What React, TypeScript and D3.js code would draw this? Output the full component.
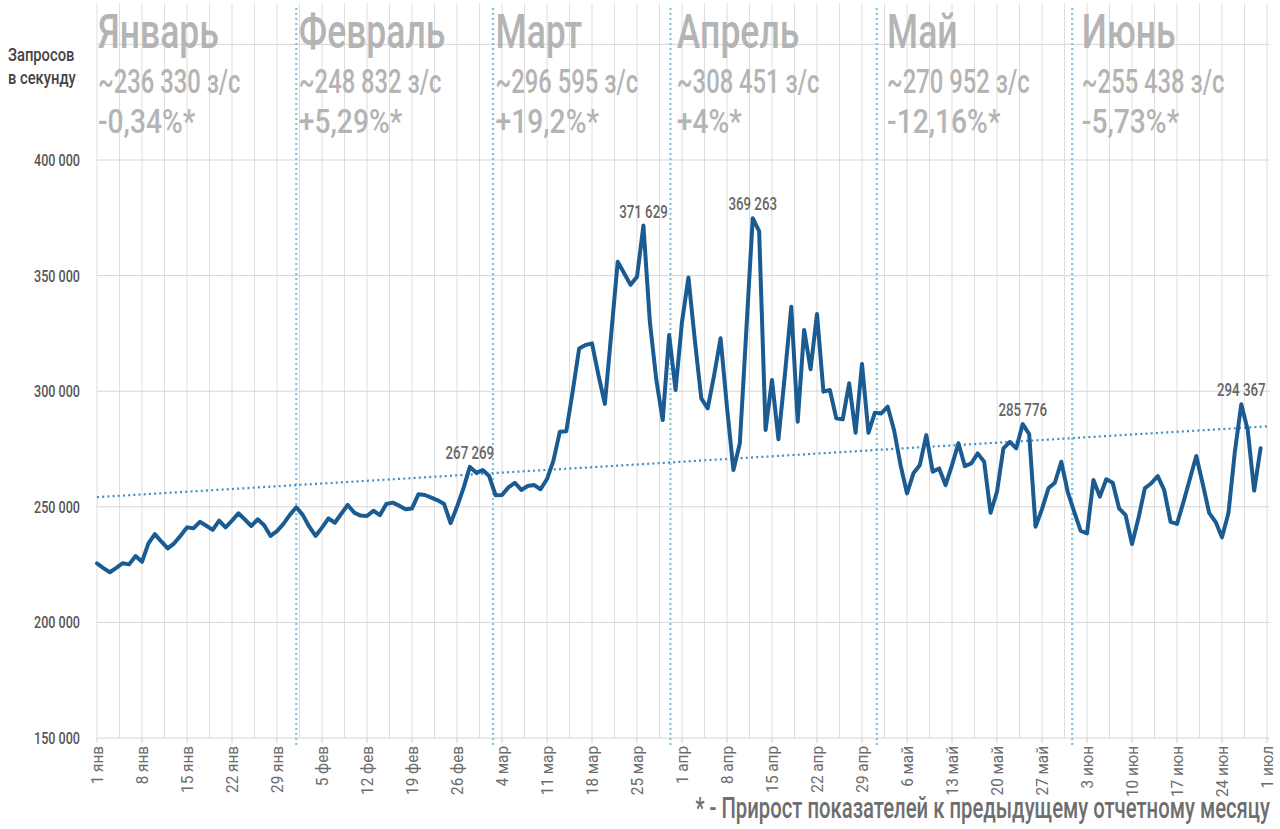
import React, { useEffect } from "react";
import * as d3 from "d3";

// ---------- DATA ----------
const START_YEAR = 2016; // day 0 = 1 Jan 2016
const MONTH_ABBR = ["янв", "фев", "мар", "апр", "май", "июн", "июл"];

// daily requests per second, 1 Jan .. 30 Jun
const VALUES: number[] = [
  // январь
  225500, 223500, 221700, 223600, 225600, 225100, 228700, 226200, 234200, 238200,
  235000, 232000, 234200, 237500, 241100, 240700, 243500, 241800, 240000, 244000,
  241100, 244000, 247200, 244500, 241700, 244600, 242000, 237400, 239500, 242600,
  246500,
  // февраль
  249800, 246500, 241500, 237400, 241000, 245000, 243100, 247000, 250800, 247500,
  246200, 246000, 248300, 246400, 251200, 251800, 250500, 248900, 249300, 255400,
  255100, 254000, 252800, 251200, 242900, 250000, 258000, 267269, 264700,
  // март
  265900, 263300, 255000, 255100, 258400, 260400, 257300, 259000, 259400, 257600,
  262000, 270000, 282500, 282700, 300000, 318500, 320000, 320700, 307000, 294500,
  325000, 356000, 351000, 346000, 349500, 371629, 330000, 305000, 287500, 324300,
  300500,
  // апрель
  330000, 349200, 322000, 296900, 292600, 307000, 322900, 293000, 265900, 277500,
  326000, 374800, 369263, 283200, 304800, 279200, 307000, 336500, 286800, 326500,
  309500, 333400, 299800, 300500, 288300, 287800, 303400, 282000, 311800, 282000,
  // май
  290700, 290400, 293300, 283000, 268000, 255800, 264500, 268100, 281000, 265200,
  266600, 259400, 268000, 277500, 267600, 268800, 273100, 269500, 247400, 256500,
  275300, 278100, 275300, 285776, 281500, 241400, 249000, 258000, 260400, 269500,
  256500,
  // июнь
  247900, 239700, 238500, 261600, 254400, 261900, 260400, 249300, 246400, 233900,
  245000, 258000, 260200, 263300, 257300, 243500, 242600, 252000, 262000, 272000,
  260000, 247400, 243500, 236800, 247200, 273800, 294367, 283200, 257000, 275300,
];

const HEADER_NAMES = ["Январь", "Февраль", "Март", "Апрель", "Май", "Июнь"];
const HEADER_AVG = ["~236 330 з/с", "~248 832 з/с", "~296 595 з/с", "~308 451 з/с", "~270 952 з/с", "~255 438 з/с"];
const HEADER_GROWTH = ["-0,34%*", "+5,29%*", "+19,2%*", "+4%*", "-12,16%*", "-5,73%*"];
const HEADER_DAYS = [0.15, 31.4, 62, 90.2, 122.9, 153.2];
const DIVIDER_DAYS = [31, 61.6, 89.2, 121.3, 151.7];

const Y_TICKS = [150000, 200000, 250000, 300000, 350000, 400000];
const Y_GRID = [150000, 200000, 250000, 300000, 350000, 400000, 450000];

const ANNOTATIONS = [
  { day: 58, text: "267 269" },
  { day: 85, text: "371 629" },
  { day: 102, text: "369 263" },
  { day: 144, text: "285 776" },
  { day: 178, text: "294 367" },
];

const Y_TITLE = ["Запросов", "в секунду"];
const FOOTNOTE = "* - Прирост показателей к предыдущему отчетному месяцу";

// ---------- HELPERS ----------
const FONT = "Roboto, 'Noto Sans', sans-serif";

type CTProps = {
  x: number; y: number; sx: number; size: number; anchor?: string; fill: string;
  weight?: number; rotate?: number; children: React.ReactNode;
};
function CText({ x, y, sx, size, anchor = "start", fill, weight = 400, rotate = 0, children }: CTProps) {
  const tr = `translate(${x},${y})${rotate ? ` rotate(${rotate})` : ""} scale(${sx},1)`;
  return (
    <text transform={tr} fontSize={size} textAnchor={anchor as any} fill={fill} fontWeight={weight} fontFamily={FONT}>
      {children}
    </text>
  );
}

export default function App() {
  useEffect(() => {
    document.body.style.margin = "0";
  }, []);

  const W = 1280, H = 829;
  const totalDays = 182;
  const x = d3.scaleLinear().domain([0, totalDays]).range([97, 1267]);
  const y = d3.scaleLinear().domain([150000, 450000]).range([738, 44.4]);

  const line = d3.line<number>().x((_, i) => x(i)).y((v) => y(v));

  // linear trend (least squares)
  const mx = d3.mean(VALUES, (_, i) => i)!;
  const my = d3.mean(VALUES)!;
  let sxy = 0, sxx = 0;
  VALUES.forEach((v, i) => { sxy += (i - mx) * (v - my); sxx += (i - mx) * (i - mx); });
  const slope = sxy / sxx;
  const icpt = my - slope * mx;
  const trendDays = [0, totalDays];

  const vGrid = d3.range(0, totalDays + 0.01, 3.5);
  const weekTicks = d3.range(0, totalDays + 1, 7);
  const tickLabel = (d: number) => {
    const dt = new Date(Date.UTC(START_YEAR, 0, 1 + d));
    return `${dt.getUTCDate()} ${MONTH_ABBR[dt.getUTCMonth()]}`;
  };

  const gridColor = "#dedede";

  return (
    <div style={{ position: "absolute", left: 0, top: 0 }}>
      <svg width={W} height={H} style={{ display: "block", background: "#fff" }}>
        {/* vertical gridlines */}
        {vGrid.map((d) => (
          <line key={"vg" + d} x1={x(d)} x2={x(d)} y1={3} y2={y(150000)} stroke={gridColor} strokeWidth={1} />
        ))}
        {/* horizontal gridlines */}
        {Y_GRID.map((v) => (
          <line key={"hg" + v} x1={x(0)} x2={1270} y1={y(v)} y2={y(v)} stroke="#d6d6d6" strokeWidth={1} />
        ))}
        {/* bottom ticks */}
        {weekTicks.map((d) => (
          <line key={"bt" + d} x1={x(d)} x2={x(d)} y1={y(150000)} y2={y(150000) + 5} stroke="#cfcfcf" strokeWidth={1} />
        ))}

        {/* month dividers */}
        {DIVIDER_DAYS.map((d) => (
          <line key={"dv" + d} x1={x(d)} x2={x(d)} y1={8} y2={746} stroke="#7cc3dc" strokeWidth={2.2} strokeDasharray="2 3" />
        ))}

        {/* headers */}
        {HEADER_NAMES.map((name, i) => (
          <g key={"hd" + i}>
            <CText x={x(HEADER_DAYS[i])} y={48} sx={0.74} size={48} fill="#b4b4b4" weight={500}>{name}</CText>
            <CText x={x(HEADER_DAYS[i])} y={93} sx={0.7} size={34} fill="#b4b4b4" weight={500}>{HEADER_AVG[i]}</CText>
            <CText x={x(HEADER_DAYS[i])} y={133} sx={0.83} size={34} fill="#b4b4b4" weight={500}>{HEADER_GROWTH[i]}</CText>
          </g>
        ))}

        {/* y axis title */}
        <CText x={8} y={61} sx={0.82} size={18} fill="#444" weight={500}>{Y_TITLE[0]}</CText>
        <CText x={8} y={84} sx={0.82} size={18} fill="#444" weight={500}>{Y_TITLE[1]}</CText>

        {/* y tick labels */}
        {Y_TICKS.map((v) => (
          <CText key={"yl" + v} x={80} y={y(v) + 6} sx={0.74} size={17} anchor="end" fill="#555" weight={500}>
            {d3.format(",")(v).replace(/,/g, " ")}
          </CText>
        ))}

        {/* x tick labels */}
        {weekTicks.map((d) => (
          <CText key={"xl" + d} x={x(d) + 6} y={746} sx={0.9} size={17} anchor="end" rotate={-90} fill="#6c6c6c">
            {tickLabel(d)}
          </CText>
        ))}

        {/* trend line */}
        <line
          x1={x(trendDays[0])} x2={x(trendDays[1])}
          y1={y(icpt + slope * trendDays[0])} y2={y(icpt + slope * trendDays[1])}
          stroke="#3b8fc4" strokeWidth={2.2} strokeDasharray="2 3.2"
        />

        {/* main series */}
        <path d={line(VALUES) || ""} fill="none" stroke="#1a5b92" strokeWidth={4} strokeLinejoin="round" strokeLinecap="round" />

        {/* annotations */}
        {ANNOTATIONS.map((a) => (
          <CText key={"an" + a.day} x={x(a.day)} y={y(VALUES[a.day]) - 8} sx={0.7} size={19} anchor="middle" fill="#666" weight={500}>
            {a.text}
          </CText>
        ))}

        {/* footnote */}
        <CText x={1270} y={818} sx={0.7} size={29} anchor="end" fill="#6e6e6e" weight={500}>{FOOTNOTE}</CText>
      </svg>
    </div>
  );
}
